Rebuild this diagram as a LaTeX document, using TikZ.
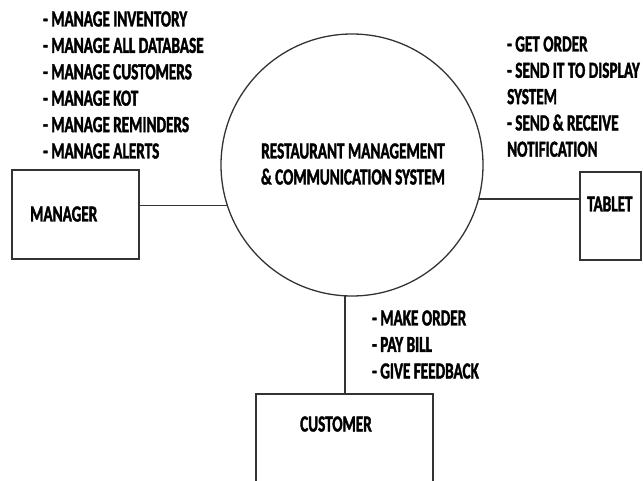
\documentclass[tikz,border=0pt]{standalone}
\usepackage{fontspec}
\setmainfont{Carlito}[BoldFont={Carlito Bold}, BoldFeatures={FakeStretch=0.66, FakeBold=1.6}, FakeStretch=0.66]
\begin{document}
\begin{tikzpicture}[x=1pt,y=-1pt,
  edge/.style={draw=black!80, line width=1.3pt},
  entity/.style={draw=black!80, line width=1.3pt, rectangle, inner sep=0pt},
  lbl/.style={inner sep=0pt, anchor=base west, font=\fontsize{23}{27}\selectfont\bfseries},
  ctr/.style={inner sep=0pt, anchor=base, font=\fontsize{23}{27}\selectfont\bfseries}]
\useasboundingbox (0,0) rectangle (643,481);
\clip (0,0) rectangle (643,481);

% central process
\node[draw=black!80, line width=1.3pt, circle, minimum size=262pt, inner sep=0pt] (sys) at (352,165) {};
\node[ctr] (sysA) at (353,158.5) {RESTAURANT MANAGEMENT};
\node[ctr] (sysB) at (353,184.5) {\& COMMUNICATION SYSTEM};

% external entities
\node[entity, minimum width=127pt, minimum height=89pt] (mgr) at (75.5,214.5) {};
\node[lbl] (mgrT) at (30,221.5) {MANAGER};
\node[entity, minimum width=61pt, minimum height=88pt] (tab) at (610.5,216) {};
\node[lbl] (tabT) at (587,211.5) {TABLET};
\node[entity, minimum width=177pt, minimum height=120pt] (cust) at (344.5,454) {};
\node[lbl] (custT) at (300,431.5) {CUSTOMER};

% connectors
\draw[edge] (mgr.east |- sys.198.7) -- (sys.198.7);
\draw[edge] (sys.-15.5) -- (tab.west |- sys.-15.5);
\draw[edge] (sys.267.4) -- (cust.north -| sys.267.4);

% manager duties
\foreach \t [count=\i] in {- MANAGE INVENTORY, - MANAGE ALL DATABASE, - MANAGE CUSTOMERS, - MANAGE KOT, - MANAGE REMINDERS, - MANAGE ALERTS}
  \node[lbl] (m\i) at (43,{26.5+26.4*(\i-1)}) {\t};

% tablet duties
\foreach \t [count=\i] in {- GET ORDER, - SEND IT TO DISPLAY, SYSTEM, - SEND \& RECEIVE, NOTIFICATION}
  \node[lbl] (t\i) at (507,{51.5+26.3*(\i-1)}) {\t};

% customer duties
\foreach \t [count=\i] in {- MAKE ORDER, - PAY BILL, - GIVE FEEDBACK}
  \node[lbl] (c\i) at (372,{325.5+26.5*(\i-1)}) {\t};
\end{tikzpicture}
\end{document}
